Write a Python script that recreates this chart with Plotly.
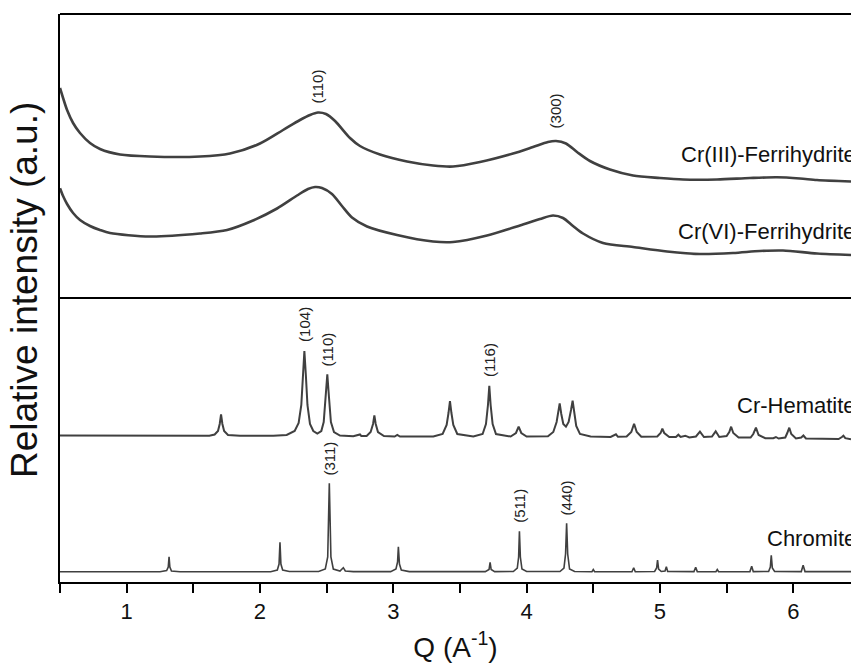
import plotly.graph_objects as go

# ---- Scattering vector Q (1/Å) and intensities (a.u.) for each sample ----
cr3_fh_q = [0.500, 0.523, 0.553, 0.598, 0.650, 0.725, 0.800, 0.950, 1.175, 1.550,
            1.775, 2.000, 2.173, 2.300, 2.375, 2.435, 2.495, 2.563, 2.675, 2.750,
            2.900, 3.103, 3.298, 3.448, 3.650, 3.898, 4.048, 4.160, 4.220, 4.295,
            4.378, 4.475, 4.625, 4.798, 5.000, 5.173, 5.428, 5.675, 5.878, 6.050,
            6.178, 6.433]
cr3_fh_i = [94.0, 84.0, 72.0, 59.0, 49.0, 39.0, 33.0, 27.5, 25.5, 25.5,
            28.5, 38.5, 52.0, 62.0, 67.0, 69.5, 68.0, 61.0, 44.0, 36.0,
            27.5, 20.5, 16.5, 15.5, 20.0, 28.5, 35.0, 40.0, 41.0, 38.5,
            30.0, 21.0, 12.5, 6.5, 4.0, 2.5, 2.5, 4.0, 4.7, 3.5,
            2.0, 0.5]

cr6_fh_q = [0.500, 0.523, 0.553, 0.598, 0.650, 0.725, 0.800, 0.875, 1.175, 1.550,
            1.753, 1.948, 2.128, 2.278, 2.360, 2.413, 2.465, 2.540, 2.615, 2.690,
            2.803, 3.028, 3.298, 3.448, 3.703, 3.950, 4.100, 4.198, 4.273, 4.348,
            4.423, 4.573, 4.798, 5.053, 5.300, 5.548, 5.750, 5.923, 6.178, 6.433]
cr6_fh_i = [67.7, 60.0, 52.0, 43.0, 36.0, 30.0, 26.0, 23.0, 19.5, 22.5,
            26.0, 35.5, 47.5, 60.5, 67.0, 69.0, 68.0, 62.0, 50.0, 38.5,
            29.5, 21.0, 14.5, 14.0, 20.5, 30.5, 37.0, 40.5, 38.0, 30.0,
            22.5, 13.0, 9.0, 4.5, 2.0, 3.0, 5.0, 5.5, 2.5, 1.0]

hematite_q = [0.50, 1.00, 1.50, 1.62, 1.66, 1.685, 1.698, 1.708, 1.718, 1.731,
              1.76, 1.85, 2.10, 2.20, 2.26, 2.29, 2.31, 2.322, 2.333, 2.344,
              2.356, 2.375, 2.40, 2.43, 2.46, 2.478, 2.492, 2.505, 2.518, 2.532,
              2.555, 2.60, 2.70, 2.74, 2.75, 2.76, 2.80, 2.83, 2.848, 2.858,
              2.868, 2.885, 2.93, 3.01, 3.03, 3.05, 3.30, 3.37, 3.40, 3.414,
              3.425, 3.436, 3.45, 3.48, 3.60, 3.67, 3.695, 3.71, 3.72, 3.73,
              3.745, 3.77, 3.88, 3.92, 3.94, 3.96, 4.00, 4.16, 4.20, 4.225,
              4.238, 4.248, 4.26, 4.275, 4.295, 4.315, 4.333, 4.345, 4.357, 4.372,
              4.40, 4.48, 4.63, 4.66, 4.67, 4.685, 4.75, 4.785, 4.806, 4.826,
              4.86, 4.98, 5.005, 5.018, 5.032, 5.07, 5.12, 5.138, 5.155, 5.19,
              5.22, 5.27, 5.30, 5.33, 5.39, 5.418, 5.445, 5.50, 5.52, 5.534,
              5.55, 5.59, 5.68, 5.70, 5.72, 5.74, 5.79, 5.85, 5.87, 5.89,
              5.94, 5.955, 5.97, 5.985, 6.02, 6.06, 6.076, 6.095, 6.20, 6.34,
              6.365, 6.376, 6.39, 6.433]
hematite_i = [4.5, 4.3, 4.2, 4.2, 5.5, 9.0, 16.0, 25.7, 16.0, 9.0,
              5.0, 4.2, 4.2, 5.0, 9.0, 17.0, 35.0, 65.0, 89.0, 65.0,
              35.0, 16.0, 9.0, 6.5, 9.0, 18.0, 42.0, 65.7, 42.0, 18.0,
              8.0, 4.5, 3.7, 5.0, 5.5, 4.0, 4.0, 8.0, 16.0, 24.7,
              16.0, 8.0, 4.0, 3.5, 5.0, 3.5, 3.5, 6.0, 15.0, 27.0,
              39.0, 27.0, 15.0, 6.0, 3.5, 6.0, 16.0, 35.0, 54.3, 35.0,
              16.0, 6.0, 3.5, 7.0, 13.3, 7.0, 3.5, 3.8, 8.0, 18.0,
              29.0, 36.7, 26.0, 16.0, 13.3, 18.0, 30.0, 39.3, 28.0, 14.0,
              6.0, 3.5, 3.0, 5.0, 5.7, 3.2, 3.5, 8.0, 16.3, 8.0,
              3.2, 3.5, 7.0, 11.3, 7.0, 3.0, 3.0, 5.3, 3.0, 4.3,
              2.5, 3.5, 8.3, 3.0, 3.5, 8.7, 3.0, 4.0, 8.0, 13.3,
              7.0, 2.5, 2.5, 6.0, 12.3, 5.0, 1.8, 1.8, 3.0, 1.5,
              2.5, 7.0, 12.3, 6.0, 1.6, 2.5, 4.5, 1.5, 1.0, 1.0,
              3.0, 4.3, 1.8, 0.8]

chromite_q = [0.50, 1.25, 1.30, 1.312, 1.318, 1.324, 1.336, 1.40, 2.08, 2.13,
              2.143, 2.15, 2.157, 2.17, 2.22, 2.44, 2.49, 2.508, 2.52, 2.532,
              2.55, 2.60, 2.625, 2.64, 2.70, 2.98, 3.02, 3.032, 3.038, 3.046,
              3.06, 3.12, 3.69, 3.718, 3.726, 3.734, 3.76, 3.90, 3.93, 3.94,
              3.946, 3.953, 3.965, 4.00, 4.25, 4.28, 4.292, 4.30, 4.308, 4.322,
              4.36, 4.49, 4.50, 4.51, 4.79, 4.803, 4.815, 4.96, 4.975, 4.982,
              4.99, 5.01, 5.038, 5.048, 5.058, 5.255, 5.268, 5.28, 5.42, 5.43,
              5.44, 5.675, 5.688, 5.70, 5.815, 5.828, 5.835, 5.843, 5.86, 6.06,
              6.074, 6.088, 6.433]
chromite_i = [0.3, 0.3, 1.5, 5.0, 15.3, 5.0, 1.0, 0.3, 0.3, 2.0,
              8.0, 29.7, 8.0, 2.0, 0.5, 0.5, 3.0, 15.0, 88.7, 15.0,
              3.0, 1.0, 4.3, 1.0, 0.4, 0.4, 3.0, 10.0, 25.3, 8.0,
              2.0, 0.4, 0.4, 2.5, 9.7, 2.5, 0.4, 0.5, 4.0, 15.0,
              40.7, 15.0, 3.0, 0.5, 0.5, 4.0, 18.0, 48.7, 18.0, 3.0,
              0.5, 0.3, 2.5, 0.3, 0.3, 4.3, 0.3, 0.5, 4.0, 12.0,
              3.0, 0.5, 1.0, 5.3, 0.5, 0.4, 4.7, 0.4, 0.3, 2.5,
              0.3, 0.4, 5.7, 0.4, 0.5, 5.0, 16.7, 4.0, 0.5, 0.4,
              6.7, 0.4, 0.4]

# Vertical offsets used to stack the patterns
offsets = {"Cr(III)-Ferrihydrite": 400, "Cr(VI)-Ferrihydrite": 326,
           "Cr-Hematite": 142, "Chromite": 10}

# Reflection labels: (sample, Q of the peak, hkl, gap above the peak in px)
hkl_labels = [("Cr(III)-Ferrihydrite", 2.435, "(110)", 7),
              ("Cr(III)-Ferrihydrite", 4.220, "(300)", 11),
              ("Cr-Hematite", 2.333, "(104)", 7),
              ("Cr-Hematite", 2.505, "(110)", 6),
              ("Cr-Hematite", 3.720, "(116)", 7),
              ("Chromite", 2.520, "(311)", 6),
              ("Chromite", 3.946, "(511)", 7),
              ("Chromite", 4.300, "(440)", 6)]

# Sample name positions (left edge Q, vertical position a.u.)
name_pos = {"Cr(III)-Ferrihydrite": (5.145, 428),
            "Cr(VI)-Ferrihydrite": (5.118, 351),
            "Cr-Hematite": (5.565, 176.5),
            "Chromite": (5.790, 43.5)}

series = {"Cr(III)-Ferrihydrite": (cr3_fh_q, cr3_fh_i, 2.6, "spline"),
          "Cr(VI)-Ferrihydrite": (cr6_fh_q, cr6_fh_i, 2.6, "spline"),
          "Cr-Hematite": (hematite_q, hematite_i, 2.0, "linear"),
          "Chromite": (chromite_q, chromite_i, 1.6, "linear")}

LINE = "#404040"
FONT = "Arial, Liberation Sans, sans-serif"

fig = go.Figure()
for name, (q, inten, w, shape) in series.items():
    off = offsets[name]
    fig.add_trace(go.Scatter(
        x=q, y=[v + off for v in inten], mode="lines", name=name,
        line=dict(color=LINE, width=w, shape=shape, smoothing=0.8),
        showlegend=False, hoverinfo="skip"))

annotations = []
for name, qpk, text, gap in hkl_labels:
    q, inten = series[name][0], series[name][1]
    idx = min(range(len(q)), key=lambda k: abs(q[k] - qpk))
    annotations.append(dict(
        x=q[idx], y=inten[idx] + offsets[name], xref="x", yref="y",
        text=text, textangle=-90, showarrow=False,
        xanchor="center", yanchor="bottom", yshift=gap,
        font=dict(family=FONT, size=15, color="#222222")))

for name, (qx, yy) in name_pos.items():
    annotations.append(dict(
        x=qx, y=yy, xref="x", yref="y", text=name, showarrow=False,
        xanchor="left", yanchor="middle",
        font=dict(family=FONT, size=22, color="#111111")))

annotations.append(dict(
    x=0, y=0.514, xref="paper", yref="paper", xshift=-36,
    text="Relative intensity (a.u.)", textangle=-90, showarrow=False,
    xanchor="center", yanchor="middle",
    font=dict(family=FONT, size=37, color="#111111")))

tick_vals = [0.5, 1.0, 1.5, 2.0, 2.5, 3.0, 3.5, 4.0, 4.5, 5.0, 5.5, 6.0]
tick_text = ["", "1", "", "2", "", "3", "", "4", "", "5", "", "6"]

fig.update_layout(
    width=851, height=668,
    margin=dict(l=60, r=0, t=14, b=86),
    paper_bgcolor="white", plot_bgcolor="white",
    annotations=annotations,
    shapes=[
        dict(type="line", xref="paper", yref="paper", x0=0, x1=1, y0=1, y1=1,
             line=dict(color="black", width=2)),
        dict(type="line", xref="paper", yref="y", x0=0, x1=1, y0=284, y1=284,
             line=dict(color="black", width=2)),
    ],
    xaxis=dict(range=[0.5, 6.433], showgrid=False, zeroline=False,
               showline=True, linecolor="black", linewidth=2,
               ticks="outside", ticklen=9, tickwidth=2, tickcolor="black",
               tickvals=tick_vals, ticktext=tick_text,
               tickfont=dict(family=FONT, size=22, color="#111111"),
               title=dict(text="Q (A<sup>-1</sup>)", standoff=14,
                          font=dict(family=FONT, size=28, color="#111111"))),
    yaxis=dict(range=[0, 568], showgrid=False, zeroline=False,
               showline=True, linecolor="black", linewidth=2,
               showticklabels=False, ticks=""),
)

fig.write_html("out.html")
